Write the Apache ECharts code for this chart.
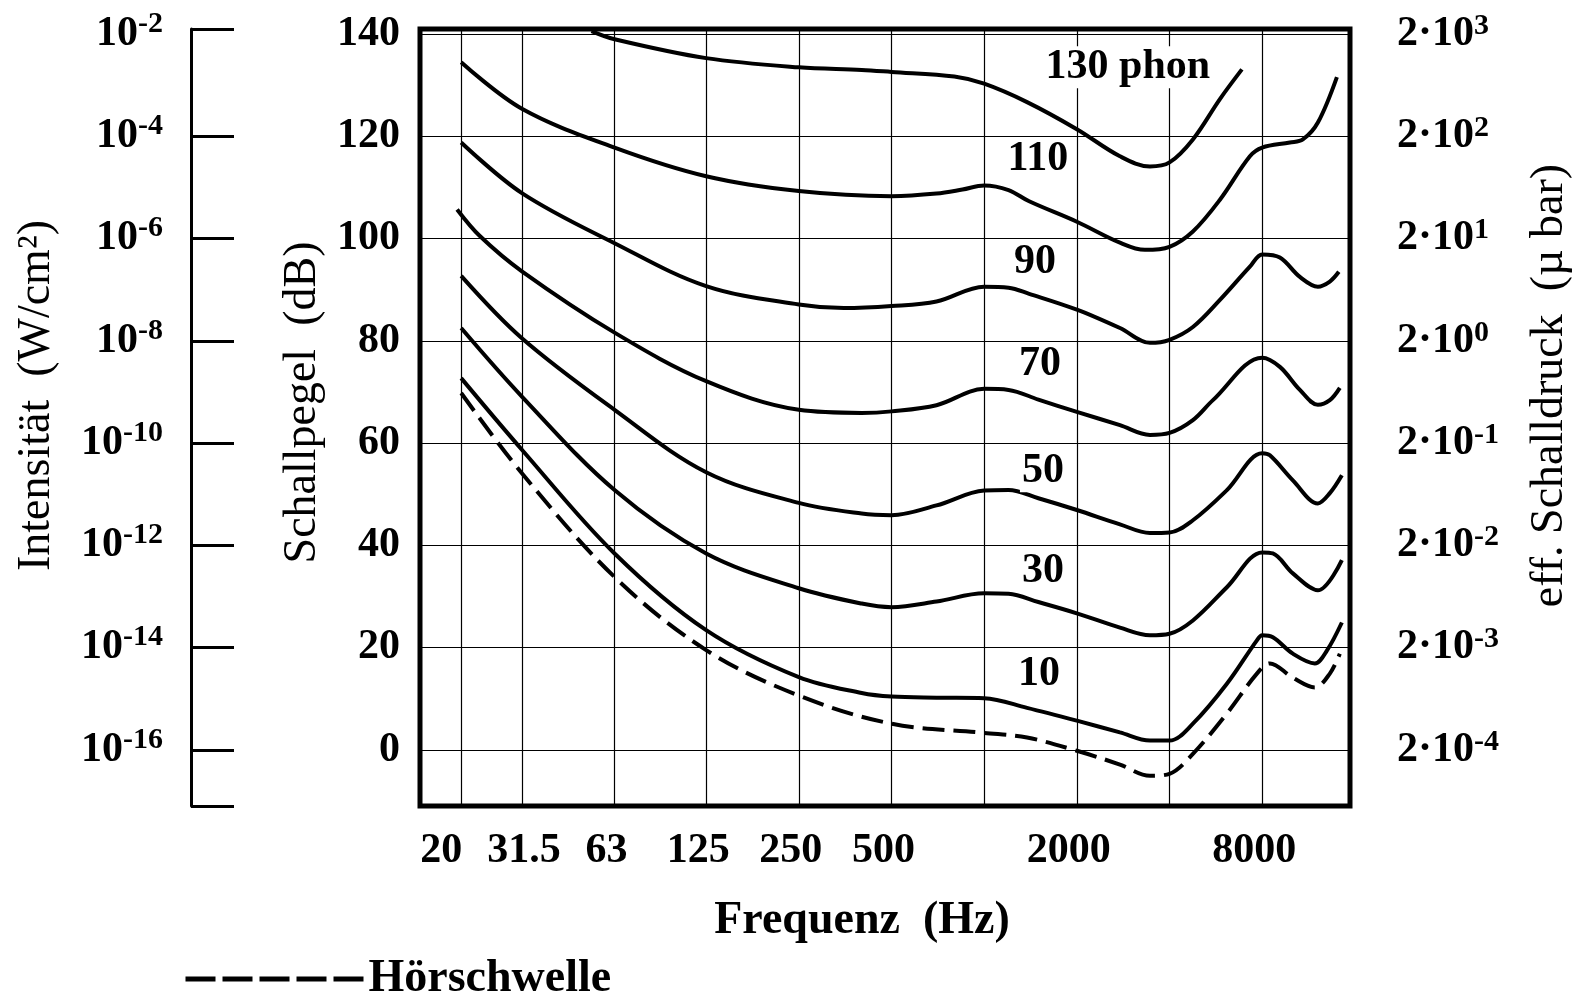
<!DOCTYPE html>
<html>
<head>
<meta charset="utf-8">
<title>Kurven gleicher Lautstärke</title>
<script src="https://cdn.jsdelivr.net/npm/echarts@6/dist/echarts.min.js"></script>
<style>
    html, body { margin: 0; padding: 0; background: #fff; }
    #chart { width: 1572px; height: 997px; }
</style>
</head>
<body>
<div id="chart"></div>
<script>
(function () {
    'use strict';

    var FONT = '"Liberation Serif", "DejaVu Serif", serif';

    // Frequenzachse (Hz), logarithmisch
    var gridFreqs = [20, 31.5, 63, 125, 250, 500, 1000, 2000, 4000, 8000];
    var freqLabelValues = [20, 31.5, 63, 125, 250, 500, 2000, 8000];
    var freqLabels = ['20', '31.5', '63', '125', '250', '500', '2000', '8000'];
    var freqMin = 14.7, freqMax = 15430;

    // Pegelachsen
    var dbTicks = [0, 20, 40, 60, 80, 100, 120, 140];
    var intensityTicks = [-11, 0, 20, 40, 60, 80, 100, 120, 141];
    var intensityExp = ['-16', '-14', '-12', '-10', '-8', '-6', '-4', '-2'];
    var pressureExp = ['-4', '-3', '-2', '-1', '0', '1', '2', '3'];
    var dbMin = -11, dbMax = 141;

    // Kurven gleicher Lautstärke (Frequenz in Hz, Pegel in dB)
    var phon130Hz = [53, 63, 125, 250, 400, 500, 800, 1000, 1378, 2000, 2761, 3456, 4000, 4765, 5832, 6874];
    var phon130Db = [140.6, 139.0, 135.3, 133.5, 133.0, 132.6, 131.7, 130.3, 126.7, 121.4, 116.1, 114.1, 114.9, 119.4, 127.3, 133.1];

    var phon110Hz = [20, 31.5, 63, 125, 250, 500, 700, 850, 1000, 1200, 1400, 2000, 2761, 3328, 4000, 4765, 5832, 7297, 8000, 9842, 10846, 12134, 13990];
    var phon110Db = [134.5, 125.4, 117.8, 112.2, 109.3, 108.3, 108.8, 109.6, 110.4, 109.5, 107.3, 103.3, 99.2, 97.8, 98.4, 101.4, 107.6, 116.1, 117.8, 118.8, 119.4, 122.7, 131.6];

    var phon90Hz = [20, 31.5, 63, 125, 250, 350, 500, 700, 1000, 1200, 1400, 2000, 2761, 3456, 4000, 4765, 5832, 7297, 8000, 9132, 10606, 12134, 13270, 14192];
    var phon90Db = [118.8, 108.9, 99.1, 90.7, 87.1, 86.4, 86.8, 87.7, 90.6, 90.4, 89.2, 86.1, 82.5, 79.6, 80.2, 82.7, 88.0, 94.5, 96.9, 96.3, 92.5, 90.6, 91.6, 93.5];

    var phon70Hz = [19.4, 23, 31.5, 63, 125, 250, 400, 500, 700, 1000, 1200, 1500, 2000, 2761, 3456, 4000, 4765, 5535, 8000, 9132, 10606, 12134, 13270, 14300];
    var phon70Db = [105.7, 100.5, 93.6, 81.6, 72.1, 66.5, 65.9, 66.2, 67.4, 70.6, 70.4, 68.5, 66.1, 63.5, 61.6, 62.0, 64.5, 68.4, 76.7, 74.9, 70.4, 67.5, 68.4, 70.8];

    var phon50Hz = [20, 31.5, 63, 125, 250, 400, 500, 700, 1000, 1200, 1500, 2000, 2761, 3456, 4000, 4765, 6144, 8000, 8476, 10064, 12134, 13270, 14520];
    var phon50Db = [92.7, 80.5, 66.5, 54.3, 48.3, 46.2, 45.9, 47.8, 50.7, 50.8, 49.2, 46.9, 44.1, 42.4, 42.5, 44.9, 50.8, 58.0, 57.6, 52.7, 48.2, 50.2, 53.7];

    var phon30Hz = [20, 31.5, 63, 125, 250, 400, 500, 700, 1000, 1200, 1500, 2000, 2761, 3456, 4000, 4765, 6144, 8000, 8666, 10064, 12134, 14520];
    var phon30Db = [82.5, 69.1, 50.8, 38.4, 31.6, 28.6, 27.9, 29.0, 30.6, 30.5, 28.9, 26.7, 23.9, 22.4, 22.7, 25.3, 31.8, 38.6, 38.4, 34.5, 31.2, 37.1];

    var phon10Hz = [20, 31.5, 63, 125, 250, 400, 500, 700, 1000, 1378, 2000, 2761, 3456, 4000, 4765, 6144, 7690, 8000, 8666, 10064, 11860, 12980, 14520];
    var phon10Db = [72.7, 58.7, 38.4, 23.4, 14.2, 11.1, 10.4, 10.2, 10.1, 8.2, 5.7, 3.4, 1.8, 1.8, 5.1, 12.9, 21.4, 22.4, 22.0, 18.8, 16.9, 19.4, 24.9];

    // Hörschwelle (gestrichelt)
    var thresholdHz = [20, 31.5, 63, 125, 250, 500, 1000, 1378, 2000, 2761, 3456, 4000, 4765, 6144, 7690, 8476, 10064, 11860, 13270, 14300];
    var thresholdDb = [69.8, 54.1, 33.8, 19.5, 10.6, 5.1, 3.3, 2.4, -0.2, -2.9, -5.1, -4.7, -0.8, 7.1, 14.9, 16.9, 14.1, 12.2, 14.9, 18.8];

    // Beschriftung der Kurven
    var curveLabelText = ['130 phon', '110', '90', '70', '50', '30', '10'];
    var curveLabelHz = [2930, 1495, 1462, 1518, 1552, 1552, 1507];
    var curveLabelDb = [133.5, 115.5, 95.3, 75.5, 54.5, 34.9, 14.7];

    function pts(hz, db) {
        return hz.map(function (f, i) { return [Math.log2(f), db[i]]; });
    }
    function log2List(arr) {
        return arr.map(function (f) { return Math.log2(f); });
    }

    var tickText = { color: '#000', fontFamily: FONT, fontSize: 42, fontWeight: 'bold' };
    var titleText = { color: '#000', fontFamily: FONT, fontSize: 46, fontWeight: 'normal' };
    var SMOOTH = 0.35;

    function curve(hz, db) {
        return {
            type: 'line',
            data: pts(hz, db),
            symbol: 'none',
            smooth: SMOOTH,
            silent: true,
            z: 3,
            lineStyle: { color: '#000', width: 4 }
        };
    }

    var series = [
        curve(phon130Hz, phon130Db),
        curve(phon110Hz, phon110Db),
        curve(phon90Hz, phon90Db),
        curve(phon70Hz, phon70Db),
        curve(phon50Hz, phon50Db),
        curve(phon30Hz, phon30Db),
        curve(phon10Hz, phon10Db),
        {
            name: 'Hörschwelle',
            type: 'line',
            data: pts(thresholdHz, thresholdDb),
            symbol: 'none',
            smooth: SMOOTH,
            silent: true,
            z: 3,
            itemStyle: { color: '#000' },
            lineStyle: { color: '#000', width: 4, type: [22, 9] }
        },
        {
            type: 'scatter',
            data: curveLabelHz.map(function (f, i) { return [Math.log2(f), curveLabelDb[i], curveLabelText[i]]; }),
            symbolSize: 1,
            silent: true,
            z: 5,
            itemStyle: { color: 'transparent', opacity: 1 },
            label: {
                show: true,
                position: 'inside',
                opacity: 1,
                formatter: function (p) { return p.data[2]; },
                color: '#000',
                textBorderWidth: 0,
                fontFamily: FONT,
                fontSize: 42,
                fontWeight: 'bold',
                backgroundColor: '#fff',
                padding: [0, 2]
            }
        }
    ];

    var chart = echarts.init(document.getElementById('chart'));

    chart.setOption({
        animation: false,
        backgroundColor: '#fff',
        grid: {
            left: 420, right: 222, top: 29, bottom: 191,
            outerBoundsMode: 'none',
            containLabel: false,
            show: true, borderColor: '#000', borderWidth: 5, backgroundColor: 'transparent'
        },
        legend: {
            data: ['Hörschwelle'],
            left: 178, top: 951,
            itemWidth: 182, itemHeight: 14,
            itemGap: 0,
            itemStyle: { color: 'transparent', borderWidth: 0, opacity: 0 },
            lineStyle: { type: [30, 7], width: 5, color: '#000' },
            textStyle: { color: '#000', fontFamily: FONT, fontSize: 46, fontWeight: 'bold', padding: [0, 0, 0, -4] }
        },
        xAxis: {
            type: 'value',
            min: Math.log2(freqMin),
            max: Math.log2(freqMax),
            axisLine: { show: false },
            axisTick: { show: false, customValues: log2List(gridFreqs) },
            splitLine: { show: true, lineStyle: { color: '#000', width: 1.2 } },
            axisLabel: {
                customValues: log2List(freqLabelValues),
                margin: 24,
                formatter: function (v) {
                    for (var i = 0; i < freqLabelValues.length; i++) {
                        if (Math.abs(Math.log2(freqLabelValues[i]) - v) < 1e-6) {
                            var key = i === 0 ? 'a' : (i === 1 ? 'c' : 'd');
                            return '{' + key + '|' + freqLabels[i] + '}';
                        }
                    }
                    return '';
                },
                rich: {
                    a: Object.assign({ padding: [0, 40, 0, 0] }, tickText),
                    c: Object.assign({ padding: [0, 0, 0, 4] }, tickText),
                    d: Object.assign({ padding: [0, 16, 0, 0] }, tickText)
                }
            },
            name: 'Frequenz  (Hz)',
            nameLocation: 'middle',
            nameGap: 92,
            nameTextStyle: Object.assign({}, titleText, { fontWeight: 'bold', padding: [0, 46, 0, 0] })
        },
        yAxis: [
            {
                type: 'value',
                min: dbMin, max: dbMax,
                position: 'left',
                axisLine: { show: false },
                axisTick: { show: false, customValues: dbTicks },
                splitLine: { show: true, lineStyle: { color: '#000', width: 1.2 } },
                axisLabel: Object.assign({ customValues: dbTicks, margin: 20, padding: [0, 0, 12, 0] }, tickText),
                name: 'Schallpegel  (dB)',
                nameLocation: 'middle',
                nameRotate: 90,
                nameGap: 84,
                nameTextStyle: Object.assign({}, titleText, { padding: [0, 0, 0, 30] })
            },
            {
                type: 'value',
                min: dbMin, max: dbMax,
                position: 'left',
                offset: 229,
                axisLine: { show: true, lineStyle: { color: '#000', width: 3 } },
                axisTick: { show: true, inside: true, length: 43, customValues: intensityTicks, lineStyle: { color: '#000', width: 3 } },
                splitLine: { show: false },
                axisLabel: {
                    customValues: dbTicks,
                    margin: 28,
                    formatter: function (v) {
                        return '{b|10}{s|' + intensityExp[dbTicks.indexOf(v)] + '}';
                    },
                    rich: {
                        b: { color: '#000', fontFamily: FONT, fontSize: 42, fontWeight: 'bold', lineHeight: 50 },
                        s: { color: '#000', fontFamily: FONT, fontSize: 30, fontWeight: 'bold', lineHeight: 30, verticalAlign: 'top' }
                    }
                },
                name: 'Intensität  (W/cm²)',
                nameLocation: 'middle',
                nameRotate: 90,
                nameGap: 131,
                nameTextStyle: Object.assign({}, titleText, { padding: [0, 0, 0, 44] })
            },
            {
                type: 'value',
                min: dbMin, max: dbMax,
                position: 'right',
                axisLine: { show: false },
                axisTick: { show: false, customValues: dbTicks },
                splitLine: { show: false },
                axisLabel: {
                    customValues: dbTicks,
                    margin: 47,
                    formatter: function (v) {
                        return '{b|2·10}{s|' + pressureExp[dbTicks.indexOf(v)] + '}';
                    },
                    rich: {
                        b: { color: '#000', fontFamily: FONT, fontSize: 42, fontWeight: 'bold', lineHeight: 46 },
                        s: { color: '#000', fontFamily: FONT, fontSize: 30, fontWeight: 'bold', lineHeight: 30, verticalAlign: 'top' }
                    }
                },
                name: 'eff. Schalldruck  (µ bar)',
                nameLocation: 'middle',
                nameRotate: 90,
                nameGap: 177,
                nameTextStyle: Object.assign({}, titleText, { padding: [0, 0, 0, 64] })
            }
        ],
        series: series
    });

    window.addEventListener('resize', function () { chart.resize(); });
})();
</script>
</body>
</html>
